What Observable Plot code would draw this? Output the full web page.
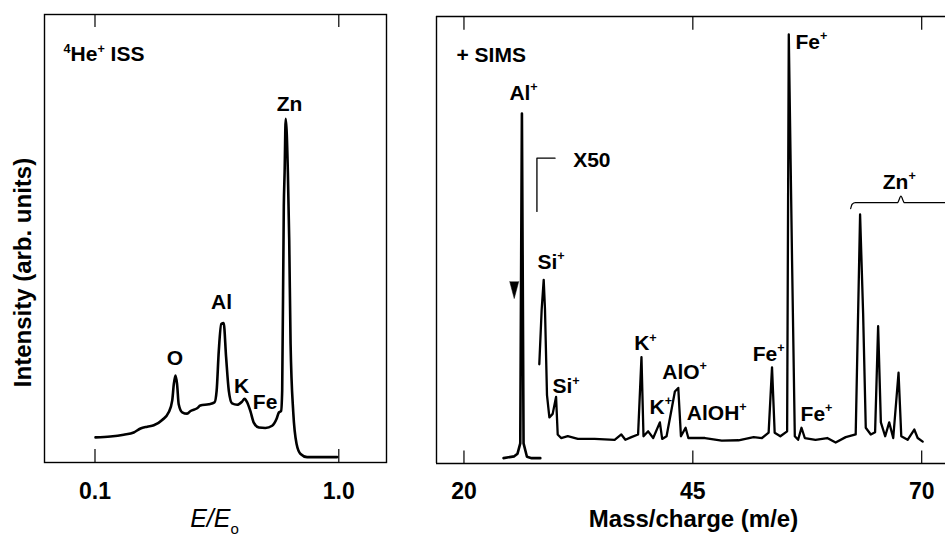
<!DOCTYPE html>
<html><head><meta charset="utf-8">
<script src="https://cdn.jsdelivr.net/npm/d3@7"></script>
<script src="https://cdn.jsdelivr.net/npm/@observablehq/plot@0.6"></script>
<style>
body{margin:0;background:#fff;}
#wrap{display:flex;width:945px;height:538px;overflow:hidden;}
#wrap svg{display:block;flex:none;}
</style></head><body><div id="wrap"></div>
<script>
// ---------- Left panel: 4He+ ISS ----------
const issE = [0.102,0.157,0.206,0.243,0.268,0.293,0.317,0.348,0.372,0.385,0.391,0.397,0.403,0.409,0.422,0.440,0.453,0.477,0.489,0.520,0.541,0.549,0.557,0.566,0.575,0.584,0.594,0.606,0.625,0.643,0.652,0.662,0.674,0.686,0.705,0.729,0.754,0.770,0.779,0.787,0.791,0.797,0.800,0.804,0.812,0.817,0.822,0.832,0.844,0.859,0.883,0.994];
const issI = [5.6,5.8,6.2,6.7,7.6,8.0,8.3,9.5,11.2,13.8,17.5,19.4,17.5,13.0,11.2,10.9,11.5,12.1,12.7,13.0,13.4,16.0,24.9,30.9,31.1,23.5,16.0,13.2,12.9,13.6,14.2,13.4,11.4,8.9,7.8,7.7,8.2,9.7,11.2,11.5,16.0,57.2,64.8,76.7,64.8,49.6,26.5,11.1,4.2,1.9,1.2,1.2];
const issTicks = [0.1, 1.0];
const issLabels = ["O","Al","K","Fe","Zn"];
const issLabelE = [0.395,0.567,0.641,0.728,0.818];
const issLabelI = [23.2,35.7,17.0,13.5,80.0];

// ---------- Right panel: + SIMS ----------
const alMass = [24.32,25.49,25.85,26.15,26.33,26.51,26.88,27.4,28.34];
const alInt  = [1.2,1.6,2.2,4.5,78.3,4.5,1.5,1.2,1.2];
const simsMass = [28.23,28.49,28.71,28.85,29.07,29.33,29.69,30.06,30.24,30.61,31.34,32.44,34.27,36.46,37.19,37.63,38.29,39.02,39.39,39.61,40.12,40.67,41.40,41.65,42.13,43.04,43.41,43.70,44.21,44.51,46.33,48.16,49.99,51.64,52.55,53.28,53.65,53.94,54.56,55.30,55.48,55.84,56.14,56.50,56.87,57.23,58.40,59.68,60.60,61.70,62.79,63.27,63.60,63.89,64.44,64.91,65.24,65.54,66.01,66.45,66.89,67.47,67.77,68.46,69.19,69.56,70.11];
const simsInt  = [22.2,34.5,41.1,34.5,15.3,10.3,11.1,14.9,6.5,5.7,6.1,5.5,5.5,5.3,6.5,5.3,5.9,6.5,23.8,6.1,7.2,5.7,9.2,5.5,6.1,16.1,16.9,6.1,8.0,5.7,5.7,5.1,5.2,5.9,5.7,6.9,21.5,6.9,6.1,7.2,96.0,45.3,6.1,5.3,8.0,5.7,5.3,5.7,4.7,5.9,6.5,55.7,33.7,8.0,6.5,7.0,30.7,9.2,6.1,9.2,5.7,20.3,6.1,5.3,7.6,5.7,4.9];
const simsTicks = [20, 45, 70];
const simsLabels = ["Al^{+}","Si^{+}","Si^{+}","K^{+}","K^{+}","AlO^{+}","AlOH^{+}","Fe^{+}","Fe^{+}","Zn^{+}","X50"];
const simsLabelM = [26.51,29.51,31.16,39.82,41.51,44.10,47.61,53.28,58.51,67.55,33.97];
const simsLabelI = [82.9,45.1,17.2,26.8,12.6,20.5,11.3,24.5,11.1,62.9,67.9];
const feTopLabel = ["Fe^{+}"], feTopM = [56.21], feTopI = [94.3];
const bracketM = [29.95,27.97,27.97];
const bracketI = [68.3,68.3,56.4];
const braceM = [62.24,62.40,62.75,67.35,67.73,68.11,72.6];
const braceI = [57.0,58.0,58.35,58.35,59.8,58.35,58.35];
const markerM = [25.49], markerI = [40.7];

const zip = (xs, ys) => xs.map((x, i) => ({x, y: ys[i]}));
const FONT = "'Liberation Sans', Arial, Helvetica, sans-serif";

function rich(svg){
  svg.querySelectorAll("text").forEach(t => {
    const s = t.textContent;
    if (!/[\^_]\{/.test(s)) return;
    const fs = parseFloat(getComputedStyle(t).fontSize) || 16;
    while (t.firstChild) t.removeChild(t.firstChild);
    const re = /([\^_])\{([^}]*)\}|([^\^_]+)/g; let m; let off = 0;
    while ((m = re.exec(s))) {
      const sp = document.createElementNS("http://www.w3.org/2000/svg", "tspan");
      if (m[3] !== undefined) {
        sp.textContent = m[3];
        if (off) { sp.setAttribute("dy", -off); off = 0; }
      } else {
        sp.textContent = m[2];
        sp.setAttribute("font-size", (fs * 0.6).toFixed(1));
        const target = m[1] === "^" ? -0.42 * fs : 0.28 * fs;
        sp.setAttribute("dy", target - off); off = target;
        if (m[1] === "_") sp.setAttribute("font-style", "normal");
      }
      t.appendChild(sp);
    }
  });
}

const left = Plot.plot({
  width: 420, height: 538,
  marginLeft: 44, marginRight: 34, marginTop: 14, marginBottom: 76,
  x: {domain: [-0.0864, 1.1761]},
  y: {domain: [0, 100], axis: null},
  style: {fontFamily: FONT, color: "black", background: "white", overflow: "visible"},
  marks: [
    Plot.frame({stroke: "black", strokeWidth: 1.4}),
    Plot.ruleX(issTicks, {y1: 0, y2: 2.9, strokeWidth: 1.2}),
    Plot.ruleX(issTicks, {y1: 97.1, y2: 100, strokeWidth: 1.2}),
    Plot.axisX({ticks: issTicks, tickSize: 0, tickPadding: 20, tickFormat: d3.format(".1f"), fontSize: 23, fontWeight: "bold", label: null}),
    Plot.line(zip(issE, issI), {x: "x", y: "y", curve: "monotone-x", strokeWidth: 2.6, strokeLinejoin: "round"}),
    Plot.text(issLabels, {x: (d, i) => issLabelE[i], y: (d, i) => issLabelI[i], text: d => d, fontSize: 21, fontWeight: "bold"}),
    Plot.text(["^{4}He^{+} ISS"], {frameAnchor: "top-left", dx: 19, dy: 32, textAnchor: "start", fontSize: 21, fontWeight: "bold"}),
    Plot.text(["Intensity (arb. units)"], {frameAnchor: "left", dx: -21, dy: 34, rotate: -90, textAnchor: "middle", fontSize: 24, fontWeight: "bold"}),
    Plot.text(["E/E_{o}"], {frameAnchor: "bottom", dx: -1, dy: 64, fontSize: 25, fontStyle: "italic"})
  ]
});

const right = Plot.plot({
  width: 525, height: 538,
  marginLeft: 16, marginRight: 0, marginTop: 16, marginBottom: 75,
  x: {domain: [17.0, 72.6]},
  y: {domain: [0, 100], axis: null},
  style: {fontFamily: FONT, color: "black", background: "white", overflow: "visible"},
  marks: [
    Plot.ruleY([0, 100], {strokeWidth: 1.4}),
    Plot.ruleX([17.0], {strokeWidth: 1.4}),
    Plot.ruleX(simsTicks, {y1: 0, y2: 2.8, strokeWidth: 1.2}),
    Plot.ruleX(simsTicks, {y1: 96.9, y2: 100, strokeWidth: 1.2}),
    Plot.axisX({ticks: simsTicks, tickSize: 0, tickPadding: 19, fontSize: 23, fontWeight: "bold", label: null}),
    Plot.line(zip(alMass, alInt), {x: "x", y: "y", strokeWidth: 2.6, strokeLinejoin: "round"}),
    Plot.line(zip(simsMass, simsInt), {x: "x", y: "y", strokeWidth: 2.3, strokeLinejoin: "round"}),
    Plot.line(zip(bracketM, bracketI), {x: "x", y: "y", strokeWidth: 1.3}),
    Plot.line(zip(braceM, braceI), {x: "x", y: "y", strokeWidth: 1.2, curve: "monotone-x"}),
    Plot.vector(zip(markerM, markerI), {x: "x", y: "y", length: 17, rotate: 180, shape: "spike", r: 4.5, anchor: "start", fill: "black", stroke: "black", strokeWidth: 0.5}),
    Plot.text(simsLabels, {x: (d, i) => simsLabelM[i], y: (d, i) => simsLabelI[i], text: d => d, fontSize: 21, fontWeight: "bold"}),
    Plot.text(feTopLabel, {x: (d, i) => feTopM[i], y: (d, i) => feTopI[i], text: d => d, textAnchor: "start", fontSize: 21, fontWeight: "bold"}),
    Plot.text(["+ SIMS"], {frameAnchor: "top-left", dx: 20, dy: 31, textAnchor: "start", fontSize: 21, fontWeight: "bold"}),
    Plot.text(["Mass/charge (m/e)"], {frameAnchor: "bottom", dx: 2.5, dy: 63, fontSize: 24, fontWeight: "bold"})
  ]
});

const wrap = document.getElementById("wrap");
wrap.appendChild(left);
wrap.appendChild(right);
rich(left); rich(right);
</script>
</body></html>
